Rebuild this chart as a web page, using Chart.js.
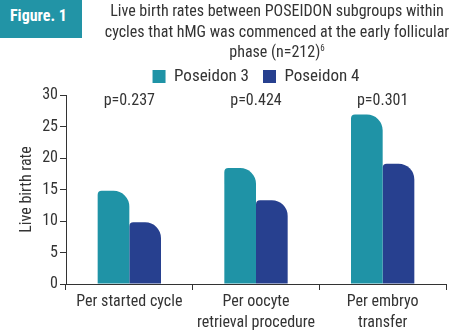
<!DOCTYPE html>
<html>
<head>
<meta charset="utf-8">
<script src="https://cdn.jsdelivr.net/npm/chart.js@4"></script>
<style>
  html, body { margin: 0; padding: 0; background: #fff; }
  #wrap { position: relative; width: 451px; height: 334px; overflow: hidden;
          font-family: 'Roboto Condensed', Roboto, sans-serif; font-stretch: condensed; color: #333; }
  #fig { position: absolute; left: 0; top: 0; width: 82px; height: 38px; background: #2294A6;
         color: #fff; font-weight: bold; font-size: 16px; line-height: 16px; box-sizing: border-box;
         padding: 8px 0 0 10px; white-space: nowrap; }
  #title { position: absolute; left: 100px; width: 354px; top: 1px; text-align: center;
           font-size: 16px; line-height: 20.5px; white-space: nowrap; }
  #title sup { font-size: 9px; vertical-align: 6px; line-height: 0; }
  canvas { position: absolute; left: 0; top: 0; }
</style>
</head>
<body>
<div id="wrap">
  <canvas id="c" width="451" height="334"></canvas>
  <div id="fig">Figure. 1</div>
  <div id="title"></div>
</div>
<script>
const figureLabel = "Figure. 1";
const titleLines = ["Live birth rates between POSEIDON subgroups within",
                    "cycles that hMG was commenced at the early follicular",
                    "phase (n=212)"];
const titleRef = "6";
const categories = [["Per started cycle"], ["Per oocyte", "retrieval procedure"], ["Per embryo", "transfer"]];
const seriesNames = ["Poseidon 3", "Poseidon 4"];
const poseidon3 = [14.8, 18.4, 26.9];
const poseidon4 = [9.8, 13.3, 19.1];
const pValues = ["p=0.237", "p=0.424", "p=0.301"];
const yTicks = [0, 5, 10, 15, 20, 25, 30];
const colors = ["#1F93A6", "#27408F"];

document.getElementById('fig').textContent = figureLabel;
const t = document.getElementById('title');
t.innerHTML = titleLines.slice(0, -1).join('<br>') + '<br>' + titleLines[titleLines.length - 1] + '<sup>' + titleRef + '</sup>';

const FONT = "'Roboto Condensed', Roboto, sans-serif";
Chart.defaults.font.family = FONT;
Chart.defaults.color = '#333';

const pLabelPlugin = {
  id: 'pLabels',
  afterDatasetsDraw(chart) {
    const ctx = chart.ctx, x = chart.scales.x, area = chart.chartArea;
    ctx.save();
    ctx.font = "16px " + FONT;
    ctx.fillStyle = '#333';
    ctx.textAlign = 'center';
    ctx.textBaseline = 'middle';
    pValues.forEach((p, i) => ctx.fillText(p, x.getPixelForValue(i), area.top + 6));
    ctx.restore();
  }
};
const legendShift = {
  id: 'legendShift',
  afterLayout(chart) {
    const l = chart.legend;
    if (!l) return;
    const dx = 33;
    l.left += dx; l.right += dx;
  }
};

new Chart(document.getElementById('c'), {
  type: 'bar',
  data: {
    labels: categories,
    datasets: [
      { label: seriesNames[0], data: poseidon3, backgroundColor: colors[0] },
      { label: seriesNames[1], data: poseidon4, backgroundColor: colors[1] }
    ]
  },
  options: {
    responsive: false,
    animation: false,
    devicePixelRatio: 1,
    layout: { padding: { top: 54, right: 5, left: 0, bottom: 0 } },
    datasets: { bar: { barPercentage: 1, categoryPercentage: 0.5,
      borderRadius: { topLeft: 4, topRight: 16, bottomLeft: 0, bottomRight: 0 }, borderSkipped: 'start' } },
    plugins: {
      legend: { position: 'top', labels: { boxWidth: 13, boxHeight: 13, padding: 14, color: '#333',
                font: { size: 17 } } },
      tooltip: { enabled: false },
      title: { display: false }
    },
    scales: {
      x: {
        grid: { drawOnChartArea: false, drawTicks: true, tickLength: 6, color: '#333', offset: true },
        border: { display: true, color: '#333', width: 1 },
        ticks: { color: '#333', font: { size: 16, lineHeight: 1.3 }, padding: 2, maxRotation: 0, autoSkip: false },
        afterFit(s) { s.height = 50; }
      },
      y: {
        min: 0, max: 30,
        afterBuildTicks(s) { s.ticks = yTicks.map(v => ({ value: v })); },
        grid: { drawOnChartArea: false, drawTicks: true, tickLength: 6, color: '#333' },
        border: { display: true, color: '#333', width: 1 },
        ticks: { color: '#333', font: { size: 16 }, padding: 2 },
        title: { display: true, text: 'Live birth rate', color: '#333', font: { size: 16 }, padding: { top: 17, bottom: 0 } },
        afterFit(s) { s.width = 66; }
      }
    }
  },
  plugins: [pLabelPlugin, legendShift]
});
</script>
</body>
</html>
